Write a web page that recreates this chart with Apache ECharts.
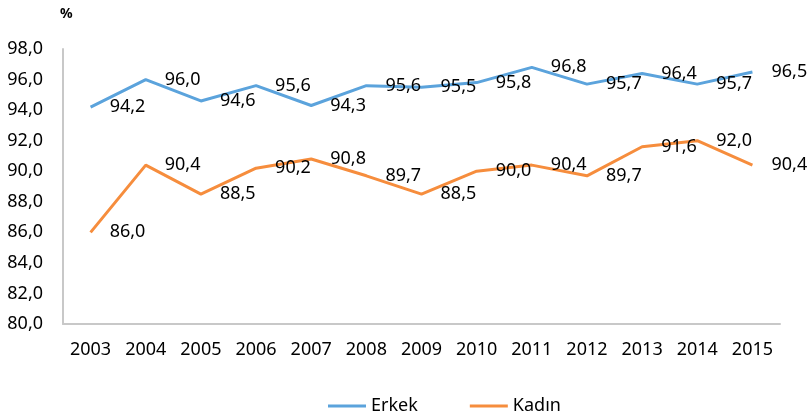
<!DOCTYPE html>
<html>
<head>
<meta charset="utf-8">
<script src="https://cdn.jsdelivr.net/npm/echarts@6/dist/echarts.min.js"></script>
<style>
  html, body { margin: 0; padding: 0; background: #fff; }
  #main { width: 811px; height: 418px; }
</style>
</head>
<body>
<div id="main"></div>
<script>
const years = ['2003', '2004', '2005', '2006', '2007', '2008', '2009', '2010', '2011', '2012', '2013', '2014', '2015'];
const erkek = [94.2, 96.0, 94.6, 95.6, 94.3, 95.6, 95.5, 95.8, 96.8, 95.7, 96.4, 95.7, 96.5];
const kadin = [86.0, 90.4, 88.5, 90.2, 90.8, 89.7, 88.5, 90.0, 90.4, 89.7, 91.6, 92.0, 90.4];

const font = 'Noto Sans';
const fmt = v => Number(v).toFixed(1).replace('.', ',');

const chart = echarts.init(document.getElementById('main'));

const option = {
    animation: false,
    textStyle: { fontFamily: font },
    graphic: [{
        type: 'text',
        left: 60,
        top: 7,
        style: { text: '%', font: 'bold 14px ' + font, fill: '#000' }
    }],
    grid: { left: 63, right: 31, top: 49, bottom: 94, containLabel: false },
    legend: {
        data: ['Erkek', 'Kadın'],
        left: 323,
        top: 392,
        icon: 'rect',
        itemWidth: 38,
        itemHeight: 3,
        itemGap: 52,
        textStyle: { fontSize: 18, color: '#000', fontFamily: font }
    },
    xAxis: {
        type: 'category',
        data: years,
        boundaryGap: true,
        axisLine: { lineStyle: { color: '#C8C8C8', width: 2 } },
        axisTick: { show: false },
        axisLabel: { color: '#000', fontSize: 18, margin: 17, fontFamily: font }
    },
    yAxis: {
        type: 'value',
        min: 80,
        max: 98,
        interval: 2,
        splitLine: { show: false },
        axisLine: { show: true, lineStyle: { color: '#C8C8C8', width: 2 } },
        axisTick: { show: false },
        axisLabel: { color: '#000', fontSize: 18, margin: 20, fontFamily: font, formatter: fmt }
    },
    series: [{
        name: 'Erkek',
        type: 'line',
        data: erkek,
        symbol: 'circle',
        symbolSize: 0.1,
        lineStyle: { width: 3, color: '#5BA3DC' },
        itemStyle: { color: '#5BA3DC' },
        emphasis: { disabled: true },
        label: {
            show: true, position: 'right', distance: 19,
            color: '#000', fontSize: 18, fontFamily: font, formatter: p => fmt(p.value)
        }
    }, {
        name: 'Kadın',
        type: 'line',
        data: kadin,
        symbol: 'circle',
        symbolSize: 0.1,
        lineStyle: { width: 3, color: '#F68D3D' },
        itemStyle: { color: '#F68D3D' },
        emphasis: { disabled: true },
        label: {
            show: true, position: 'right', distance: 19,
            color: '#000', fontSize: 18, fontFamily: font, formatter: p => fmt(p.value)
        }
    }]
};

chart.setOption(option);
</script>
</body>
</html>
